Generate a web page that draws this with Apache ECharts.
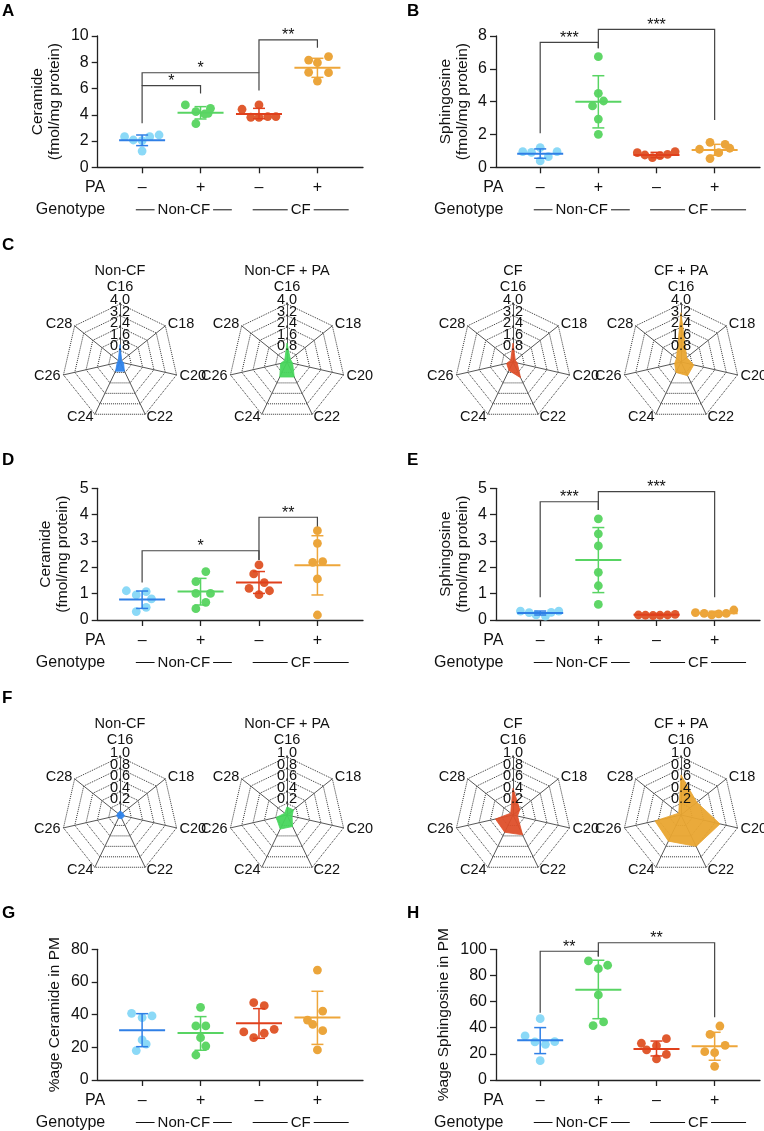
<!DOCTYPE html>
<html><head><meta charset="utf-8">
<script src="https://cdn.jsdelivr.net/npm/echarts@6.0.0/dist/echarts.min.js"></script>
<style>html,body{margin:0;padding:0;background:#fff}#c{width:764px;height:1131px}</style>
</head><body><div id="c"></div>
<script>
// ---------- DATA ----------
const paLabels = ['–', '+', '–', '+'];
const genotypeLabels = ['Non-CF', 'CF'];

// Panel A: Ceramide (fmol/mg protein)
const A_vals = [[2.33, 2.08, 2.03, 1.24, 2.33, 2.46], [4.75, 4.24, 3.32, 4.06, 4.49, 4.11], [4.42, 3.81, 4.75, 3.81, 3.86, 3.86], [8.17, 7.97, 8.43, 7.23, 7.21, 6.57]];
const A_offs = [[-0.30, -0.15, 0, 0, 0.13, 0.29], [-0.26, -0.08, -0.08, 0.07, 0.17, 0.13], [-0.29, -0.14, 0, 0, 0.15, 0.29], [-0.15, 0, 0.19, -0.15, 0.19, 0]];
const A_mean = [2.06, 4.16, 4.06, 7.59];
const A_sdHi = [2.46, 4.62, 4.49, 8.30];
const A_sdLo = [1.65, 3.68, 3.70, 6.85];
const A_brackets = [[1, 3.35, 6.22, 2, 5.63], [1, 6.22, 7.20, 3, 5.84], [3, 7.20, 9.70, 4, 9.10]];
const A_brkLabels = ['*', '*', '**'];

// Panel B: Sphingosine (fmol/mg protein)
const B_vals = [[0.95, 0.91, 1.20, 0.39, 0.65, 0.95], [6.74, 4.51, 3.74, 4.04, 2.94, 2.01], [0.89, 0.75, 0.59, 0.71, 0.79, 0.95], [1.10, 1.52, 1.40, 1.16, 0.89, 0.53]];
const B_offs = [[-0.30, -0.15, 0, 0, 0.14, 0.29], [0, 0, -0.10, 0.09, 0, 0], [-0.33, -0.20, -0.07, 0.06, 0.19, 0.32], [-0.26, -0.08, 0.18, 0.26, 0.07, -0.08]];
const B_mean = [0.83, 4.00, 0.75, 1.06];
const B_sdHi = [1.12, 5.58, 0.91, 1.40];
const B_sdLo = [0.55, 2.40, 0.59, 0.73];
const B_brackets = [[1, 2.07, 7.61, 2, 7.25], [2, 7.25, 8.40, 4, 2.88]];
const B_brkLabels = ['***', '***'];

// Panel C: radar, ceramide species (order C16..C28)
const radarNames = ['C16', 'C18', 'C20', 'C22', 'C24', 'C26', 'C28'];
const C_ticks = ['0.8', '1.6', '2.4', '3.2', '4.0'];
const C_nonCF   = [1.2, 0.15, 0.25, 0.70, 0.70, 0.20, 0.15];
const C_nonCFPA = [1.3, 0.30, 0.40, 1.15, 1.15, 0.45, 0.20];
const C_CF      = [1.3, 0.20, 0.30, 1.20, 0.65, 0.45, 0.20];
const C_CFPA    = [3.4, 0.50, 0.90, 1.05, 0.80, 0.45, 0.40];

// Panel D: Ceramide (fmol/mg protein)
const D_vals = [[1.11, 0.95, 1.08, 0.80, 0.48, 0.32], [1.84, 1.46, 1.01, 1.01, 0.67, 0.43], [2.09, 1.75, 1.42, 1.20, 1.11, 0.96], [3.39, 2.91, 2.19, 2.22, 1.56, 0.19]];
const D_offs = [[-0.27, -0.10, 0.07, 0.16, 0.07, -0.10], [0.09, -0.08, -0.08, 0.17, 0.09, -0.08], [0, -0.09, 0.09, -0.17, 0.18, 0], [0, 0, -0.08, 0.09, 0, 0]];
const D_mean = [0.78, 1.08, 1.42, 2.08];
const D_sdHi = [1.10, 1.58, 1.84, 3.20];
const D_sdLo = [0.44, 0.57, 1.01, 0.95];
const D_brackets = [[1, 1.42, 2.63, 3, 2.28], [3, 2.28, 3.90, 4, 3.55]];
const D_brkLabels = ['*', '**'];

// Panel E: Sphingosine (fmol/mg protein)
const E_vals = [[0.34, 0.28, 0.19, 0.15, 0.29, 0.34], [3.84, 3.27, 2.81, 1.81, 1.30, 0.59], [0.19, 0.18, 0.17, 0.18, 0.19, 0.21], [0.28, 0.25, 0.19, 0.23, 0.25, 0.38]];
const E_offs = [[-0.34, -0.19, -0.07, 0.09, 0.19, 0.32], [0, 0, 0, 0, 0, 0], [-0.31, -0.19, -0.06, 0.06, 0.19, 0.32], [-0.33, -0.18, -0.05, 0.07, 0.20, 0.33]];
const E_mean = [0.27, 2.28, 0.20, 0.26];
const E_sdHi = [0.34, 3.51, 0.22, 0.33];
const E_sdLo = [0.19, 1.04, 0.18, 0.20];
const E_brackets = [[1, 0.86, 4.49, 2, 4.18], [2, 4.18, 4.87, 4, 0.86]];
const E_brkLabels = ['***', '***'];

// Panel F: radar, sphingosine-related species
const F_ticks = ['0.2', '0.4', '0.6', '0.8', '1.0'];
const F_nonCF   = [0.07, 0.06, 0.08, 0.07, 0.06, 0.06, 0.05];
const F_nonCFPA = [0.14, 0.14, 0.09, 0.22, 0.27, 0.19, 0.05];
const F_CF      = [0.46, 0.15, 0.08, 0.38, 0.33, 0.31, 0.05];
const F_CFPA    = [0.69, 0.35, 0.69, 0.60, 0.50, 0.46, 0.05];

// Panel G: %age Ceramide in PM
const G_vals = [[40.8, 38.2, 39.2, 24.5, 22.0, 18.0], [44.5, 33.1, 33.1, 25.9, 20.8, 15.3], [47.3, 45.5, 29.4, 28.6, 31.0, 25.9], [67.3, 42.2, 36.7, 34.1, 30.2, 18.4]];
const G_offs = [[-0.18, 0, 0.17, 0, 0.07, -0.10], [0, -0.08, 0.09, 0, 0.09, -0.08], [-0.09, 0.09, -0.26, 0.09, 0.26, -0.09], [0, 0.09, -0.17, -0.08, 0.09, 0]];
const G_mean = [30.4, 28.8, 34.7, 38.2];
const G_sdHi = [40.6, 38.8, 43.7, 54.3];
const G_sdLo = [20.4, 18.2, 25.5, 21.8];

// Panel H: %age Sphingosine in PM
const H_vals = [[46.9, 33.7, 29.1, 27.3, 29.3, 14.8], [91.1, 87.8, 85.2, 65.1, 41.6, 44.4], [28.1, 23.0, 26.3, 31.6, 16.1, 19.6], [34.9, 41.3, 26.5, 21.7, 20.9, 10.5]];
const H_offs = [[0, -0.26, -0.09, 0.09, 0.25, 0], [-0.17, 0.16, 0, 0, -0.09, 0.09], [-0.26, -0.17, 0, 0.17, 0, 0.17], [-0.08, 0.09, 0.18, -0.17, 0, 0]];
const H_mean = [30.4, 69.1, 23.7, 25.8];
const H_sdHi = [40.1, 91.6, 29.8, 36.5];
const H_sdLo = [20.2, 46.9, 18.4, 15.1];
const H_brackets = [[1, 51.5, 98.5, 2, 94.4], [2, 94.4, 105, 4, 48]];
const H_brkLabels = ['**', '**'];

// ---------- STYLE ----------
const FONT = '"Liberation Sans", Arial, Helvetica, sans-serif';
const TXT = '#111';
const dotColors = ['#8bd9f7', '#5fd667', '#e05a2f', '#eba53b'];
const lineColors = ['#2f7fe6', '#58d463', '#e0401c', '#eea63a'];
const radarColors = ['#2f84ec', '#47d65c', '#de4f2a', '#e9a530'];
const XMIN = 0.24, XMAX = 4.78;
const RADAR_R = 58;

const panels = [
  {left: 97.7, top: 36, width: 265.3, height: 131.3, yMax: 10, yInt: 2, name: 'Ceramide\n(fmol/mg protein)', nameGap: 34, vals: A_vals, offs: A_offs, mean: A_mean, hi: A_sdHi, lo: A_sdLo, brk: A_brackets, brkLab: A_brkLabels},
  {left: 496, top: 36, width: 264, height: 131.3, yMax: 8, yInt: 2, name: 'Sphingosine\n(fmol/mg protein)', nameGap: 25, vals: B_vals, offs: B_offs, mean: B_mean, hi: B_sdHi, lo: B_sdLo, brk: B_brackets, brkLab: B_brkLabels},
  {left: 97.7, top: 488.3, width: 265.3, height: 131.7, yMax: 5, yInt: 1, name: 'Ceramide\n(fmol/mg protein)', nameGap: 26, vals: D_vals, offs: D_offs, mean: D_mean, hi: D_sdHi, lo: D_sdLo, brk: D_brackets, brkLab: D_brkLabels},
  {left: 496, top: 488.3, width: 264, height: 131.7, yMax: 5, yInt: 1, name: 'Sphingosine\n(fmol/mg protein)', nameGap: 25, vals: E_vals, offs: E_offs, mean: E_mean, hi: E_sdHi, lo: E_sdLo, brk: E_brackets, brkLab: E_brkLabels},
  {left: 97.7, top: 949.3, width: 265.3, height: 130.7, yMax: 80, yInt: 20, name: '%age Ceramide in PM', nameGap: 34, vals: G_vals, offs: G_offs, mean: G_mean, hi: G_sdHi, lo: G_sdLo, brk: [], brkLab: []},
  {left: 496, top: 949.3, width: 264, height: 130.7, yMax: 100, yInt: 20, name: '%age Sphingosine in PM', nameGap: 44, vals: H_vals, offs: H_offs, mean: H_mean, hi: H_sdHi, lo: H_sdLo, brk: H_brackets, brkLab: H_brkLabels}
];

const radarOrder = [0, 6, 5, 4, 3, 2, 1]; // counter-clockwise drawing order -> clockwise labels
const radarDefs = [
  {x: 120, y: 362, max: 4, ticks: C_ticks, vals: C_nonCF, c: 0, title: 'Non-CF'},
  {x: 287, y: 362, max: 4, ticks: C_ticks, vals: C_nonCFPA, c: 1, title: 'Non-CF + PA'},
  {x: 513, y: 362, max: 4, ticks: C_ticks, vals: C_CF, c: 2, title: 'CF'},
  {x: 681, y: 362, max: 4, ticks: C_ticks, vals: C_CFPA, c: 3, title: 'CF + PA'},
  {x: 120, y: 815, max: 1, ticks: F_ticks, vals: F_nonCF, c: 0, title: 'Non-CF'},
  {x: 287, y: 815, max: 1, ticks: F_ticks, vals: F_nonCFPA, c: 1, title: 'Non-CF + PA'},
  {x: 513, y: 815, max: 1, ticks: F_ticks, vals: F_CF, c: 2, title: 'CF'},
  {x: 681, y: 815, max: 1, ticks: F_ticks, vals: F_CFPA, c: 3, title: 'CF + PA'}
];

const letters = [
  ['A', 2, 11], ['B', 407, 11], ['C', 2, 245], ['D', 2, 460], ['E', 407, 460], ['F', 2, 698], ['G', 2, 913], ['H', 407, 913]
];

// ---------- BUILD ----------
const axisLineStyle = {color: '#222', width: 1.3};
const grid = [], xAxis = [], yAxis = [], series = [];

panels.forEach((p, i) => {
  grid.push({left: p.left, top: p.top, width: p.width, height: p.height});
  xAxis.push({
    gridIndex: i, type: 'value', min: XMIN, max: XMAX,
    splitLine: {show: false},
    axisLine: {show: true, onZero: false, lineStyle: axisLineStyle},
    axisTick: {show: true, customValues: [1, 2, 3, 4], length: 6, lineStyle: axisLineStyle},
    axisLabel: {customValues: [1, 2, 3, 4], formatter: v => paLabels[Math.round(v) - 1], margin: 12.5, fontSize: 16, color: TXT, fontFamily: FONT}
  });
  yAxis.push({
    gridIndex: i, type: 'value', min: 0, max: p.yMax, interval: p.yInt,
    splitLine: {show: false},
    axisLine: {show: true, lineStyle: axisLineStyle},
    axisTick: {show: true, length: 6, lineStyle: axisLineStyle},
    axisLabel: {margin: 9, fontSize: 16, color: TXT, fontFamily: FONT},
    name: p.name, nameLocation: 'middle', nameGap: p.nameGap,
    nameTextStyle: {fontSize: 15.5, lineHeight: 17, color: TXT, fontFamily: FONT}
  });
  // dots
  p.vals.forEach((arr, g) => {
    series.push({
      type: 'scatter', xAxisIndex: i, yAxisIndex: i, symbolSize: 8.8, z: 2,
      itemStyle: {color: dotColors[g], opacity: 1},
      data: arr.map((v, k) => [g + 1 + p.offs[g][k], v])
    });
  });
  // mean +- SD
  series.push({
    type: 'custom', xAxisIndex: i, yAxisIndex: i, z: 3, clip: false,
    encode: {x: 0, y: 1},
    data: p.mean.map((m, g) => [g + 1, m, p.lo[g], p.hi[g]]),
    renderItem: (params, api) => {
      const g = params.dataIndex, col = lineColors[g];
      const x = api.value(0);
      const pm = api.coord([x, api.value(1)]), pl = api.coord([x, api.value(2)]), ph = api.coord([x, api.value(3)]);
      const st = w => ({stroke: col, lineWidth: w});
      return {type: 'group', children: [
        {type: 'line', shape: {x1: pm[0] - 23, y1: pm[1], x2: pm[0] + 23, y2: pm[1]}, style: st(2)},
        {type: 'line', shape: {x1: pl[0], y1: pl[1], x2: ph[0], y2: ph[1]}, style: st(1.5)},
        {type: 'line', shape: {x1: ph[0] - 6, y1: ph[1], x2: ph[0] + 6, y2: ph[1]}, style: st(1.5)},
        {type: 'line', shape: {x1: pl[0] - 6, y1: pl[1], x2: pl[0] + 6, y2: pl[1]}, style: st(1.5)}
      ]};
    }
  });
  // significance brackets
  if (p.brk.length) {
    series.push({
      type: 'custom', xAxisIndex: i, yAxisIndex: i, z: 4, clip: false,
      encode: {x: 0, y: 1},
      data: p.brk,
      renderItem: (params, api) => {
        const lab = p.brkLab[params.dataIndex];
        const a = api.coord([api.value(0), api.value(1)]);
        const b = api.coord([api.value(0), api.value(2)]);
        const c = api.coord([api.value(3), api.value(2)]);
        const d = api.coord([api.value(3), api.value(4)]);
        return {type: 'group', children: [
          {type: 'polyline', shape: {points: [a, b, c, d]}, style: {stroke: '#444', lineWidth: 1.2, fill: null}},
          {type: 'text', style: {text: lab, x: (b[0] + c[0]) / 2, y: b[1] - 4, align: 'center', verticalAlign: 'middle', font: '16px ' + FONT, fill: TXT}}
        ]};
      }
    });
  }
  // PA / Genotype rows
  series.push({
    type: 'custom', xAxisIndex: i, yAxisIndex: i, z: 4, clip: false, silent: true,
    encode: {x: 0, y: 1},
    data: [[XMIN, 0]],
    renderItem: (params, api) => {
      const o = api.coord([XMIN, 0]);
      const yPA = o[1] + 20.5, yG = o[1] + 42.5;
      const font = '16px ' + FONT;
      const ch = [
        {type: 'text', style: {text: 'PA', x: o[0] + 7.5, y: yPA, align: 'right', verticalAlign: 'middle', font, fill: TXT}},
        {type: 'text', style: {text: 'Genotype', x: o[0] + 7.5, y: yG, align: 'right', verticalAlign: 'middle', font, fill: TXT}}
      ];
      genotypeLabels.forEach((t, k) => {
        const cx = api.coord([1.5 + 2 * k, 0])[0] + 12.5;
        ch.push({type: 'line', shape: {x1: cx - 48, y1: yG, x2: cx + 48, y2: yG}, style: {stroke: TXT, lineWidth: 1}});
        ch.push({type: 'text', style: {text: t, x: cx, y: yG, align: 'center', verticalAlign: 'middle', font: '15px ' + FONT, fill: TXT, backgroundColor: '#fff', padding: [0, 3]}});
      });
      return {type: 'group', children: ch};
    }
  });
});

const radar = radarDefs.map(r => ({
  center: [r.x, r.y], radius: RADAR_R, startAngle: 90, shape: 'polygon', splitNumber: 5,
  // the top (C16) name is placed above the ring labels separately
  indicator: radarOrder.map(k => ({name: k === 0 ? '' : radarNames[k], min: 0, max: r.max})),
  axisName: {color: TXT, fontSize: 14.5, fontFamily: FONT},
  nameGap: 3,
  splitLine: {lineStyle: {type: 'dotted', color: '#333', width: 1}},
  splitArea: {show: false},
  axisLine: {lineStyle: {color: '#444', width: 0.9}},
  axisLabel: {show: false}
}));

radarDefs.forEach((r, i) => {
  series.push({
    type: 'radar', radarIndex: i, symbol: 'none', z: 3,
    lineStyle: {color: radarColors[r.c], width: 0.8},
    areaStyle: {color: radarColors[r.c], opacity: 0.95},
    data: [{value: radarOrder.map(k => r.vals[k])}]
  });
});

const graphic = [];
letters.forEach(([t, x, y]) => graphic.push({type: 'text', x, y, style: {text: t, align: 'left', verticalAlign: 'middle', font: 'bold 17px ' + FONT, fill: '#000'}}));
radarDefs.forEach(r => {
  graphic.push({type: 'text', x: r.x, y: r.y - 91, style: {text: r.title, align: 'center', verticalAlign: 'middle', font: '14.5px ' + FONT, fill: TXT}});
  graphic.push({type: 'text', x: r.x, y: r.y - 75, style: {text: radarNames[0], align: 'center', verticalAlign: 'middle', font: '14.5px ' + FONT, fill: TXT}});
  // ring labels along the top (C16) spoke
  r.ticks.forEach((t, k) => graphic.push({type: 'text', z: 10, x: r.x, y: r.y - RADAR_R * (k + 1) / r.ticks.length - 4,
    style: {text: t, align: 'center', verticalAlign: 'middle', font: '14.5px ' + FONT, fill: TXT}}));
});

const chart = echarts.init(document.getElementById('c'), null, {renderer: 'canvas'});
chart.setOption({
  backgroundColor: '#fff',
  animation: false,
  textStyle: {fontFamily: FONT},
  grid, xAxis, yAxis, radar, series, graphic
});
</script></body></html>
